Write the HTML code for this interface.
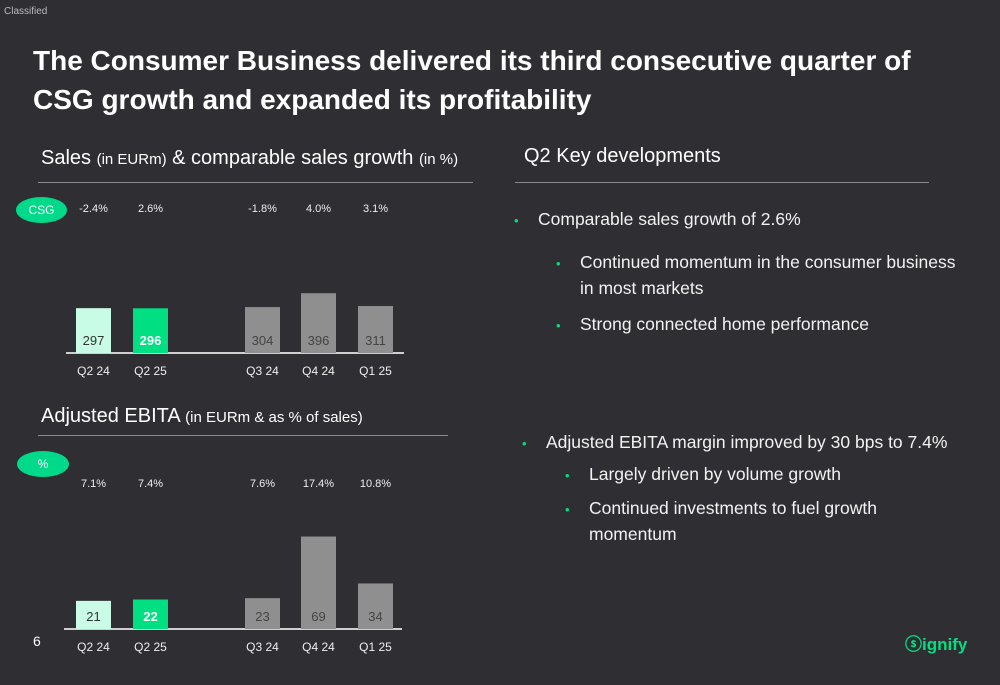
<!DOCTYPE html>
<html><head><meta charset="utf-8"><style>
body{margin:0;width:1000px;height:685px;background:#2f2e33;font-family:"Liberation Sans",sans-serif;color:#fff;overflow:hidden;position:relative}
.a{position:absolute;white-space:nowrap}
.t{font-size:28px;font-weight:bold;left:33px;line-height:38px;letter-spacing:0px}
.sub{font-size:20px}
.sub small{font-size:15px}
.line{position:absolute;height:1px;background:#8a8a8e}
.bul{font-size:17.5px;color:#f2f2f2}
.dot{color:#00e082;font-size:13px;display:inline-block;width:24px}
.ind{padding-left:24px}
.pill{position:absolute;background:#00d98a;border-radius:50%;font-size:12px;text-align:center;color:#fff}
</style></head><body>
<div class="a" style="left:4px;top:6px;font-size:10px;color:#bbb">Classified</div>
<div class="a t" style="top:42px">The Consumer Business delivered its third consecutive quarter of</div>
<div class="a t" style="top:81px">CSG growth and expanded its profitability</div>
<div class="a sub" style="left:41px;top:147px">Sales <small>(in EURm)</small> &amp; comparable sales growth <small>(in %)</small></div>
<div class="line" style="left:38px;top:182px;width:435px"></div>
<div class="a sub" style="left:524px;top:145px">Q2 Key developments</div>
<div class="line" style="left:515px;top:182px;width:414px"></div>
<div class="a sub" style="left:41px;top:405px">Adjusted EBITA <small>(in EURm &amp; as % of sales)</small></div>
<div class="line" style="left:38px;top:435px;width:410px"></div>
<div class="pill" style="left:16px;top:197px;width:51px;height:26px;line-height:26px">CSG</div>
<div class="pill" style="left:17px;top:451px;width:52px;height:26px;line-height:26px">%</div>
<svg id="c" class="a" style="left:0;top:0" width="1000" height="685"></svg>
<div class="a bul" style="left:514px;top:209px"><span class="dot">•</span>Comparable sales growth of 2.6%</div>
<div class="a bul" style="left:556px;top:250px;line-height:25px"><span class="dot">•</span>Continued momentum in the consumer business<br><span class="ind">in most markets</span></div>
<div class="a bul" style="left:556px;top:314px"><span class="dot">•</span>Strong connected home performance</div>
<div class="a bul" style="left:522px;top:432px"><span class="dot">•</span>Adjusted EBITA margin improved by 30 bps to 7.4%</div>
<div class="a bul" style="left:565px;top:464px"><span class="dot">•</span>Largely driven by volume growth</div>
<div class="a bul" style="left:565px;top:496px;line-height:25px"><span class="dot">•</span>Continued investments to fuel growth<br><span class="ind">momentum</span></div>
<div class="a" style="left:33px;top:633px;font-size:14px">6</div>
<div class="a" style="left:905px;top:630px;font-size:17px;color:#00e082;font-weight:bold">ⓢignify</div>
<script>
const cats=["Q2 24","Q2 25","Q3 24","Q4 24","Q1 25"];
const sales=[297,296,304,396,311];
const csg=["-2.4%","2.6%","-1.8%","4.0%","3.1%"];
const ebita=[21,22,23,69,34];
const margin=["7.1%","7.4%","7.6%","17.4%","10.8%"];
const svg=document.getElementById('c');
const NS='http://www.w3.org/2000/svg';
const xs=[76,133,245,301,358];
const fills=["#c8fce6","#00e082","#8f8f8f","#8f8f8f","#8f8f8f"];
const tc=["#333","#fff","#444","#444","#444"];
function mk(t,a){const e=document.createElementNS(NS,t);for(const k in a)e.setAttribute(k,a[k]);svg.appendChild(e);return e;}
function chart(vals,labels,base,scale,labY,lineX,name){
  const ax=mk('line',{x1:lineX,x2:lineX+338,y1:base,y2:base,stroke:'#cfcfcf','stroke-width':2});
  
  
  vals.forEach((v,i)=>{
    const h=v*scale;
    const r=mk('rect',{x:xs[i],y:base-h,width:35,height:h,fill:fills[i]});
    
    
    const t=mk('text',{x:xs[i]+17.5,y:base-8,'text-anchor':'middle','font-size':13,fill:tc[i],'font-weight':i==1?'bold':'normal'});
    t.textContent=v;
    
    
    const c=mk('text',{x:xs[i]+17.5,y:base+22,'text-anchor':'middle','font-size':12,fill:'#eee'});
    c.textContent=cats[i];
    
    
    const p=mk('text',{x:xs[i]+17.5,y:labY,'text-anchor':'middle','font-size':11,fill:'#eee'});
    p.textContent=labels[i];
    
    
  });
}
chart(sales,csg,353,0.151,212,66,'sales');
chart(ebita,margin,629,1.34,487,64,'ebita');
</script>
</body></html>
